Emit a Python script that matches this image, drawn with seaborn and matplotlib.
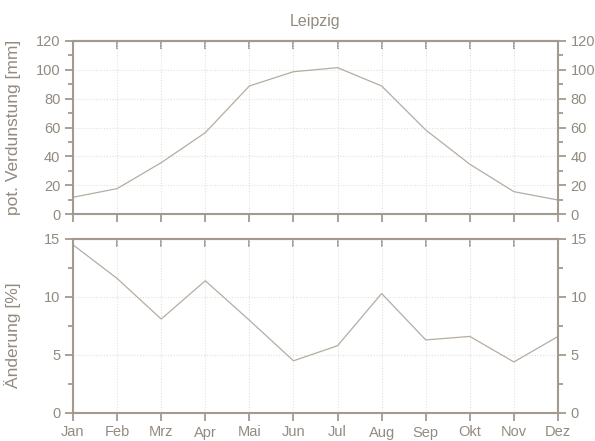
import matplotlib
matplotlib.use("Agg")
import matplotlib.pyplot as plt
from matplotlib.ticker import MultipleLocator
import seaborn as sns
import pandas as pd

months = ["Jan", "Feb", "Mrz", "Apr", "Mai", "Jun", "Jul", "Aug", "Sep", "Okt", "Nov", "Dez"]
verdunstung = [11.6, 17.6, 35.6, 56.4, 88.8, 98.7, 101.5, 88.8, 58.3, 34.5, 15.5, 9.7]
aenderung = [14.5, 11.6, 8.1, 11.4, 8.0, 4.5, 5.8, 10.3, 6.3, 6.6, 4.4, 6.6]

df = pd.DataFrame({"Monat": months, "Verdunstung": verdunstung, "Aenderung": aenderung})

sns.set_theme(style="ticks")
plt.rcParams["font.family"] = ["Liberation Sans", "DejaVu Sans"]

SPINE = "#a39a8f"
TEXT = "#938a80"
LINE = "#b5aca2"
GRID = "#e4e0dc"

fig = plt.figure(figsize=(5.95, 4.41), dpi=100)
ax1 = fig.add_axes([73 / 595, 1 - 214 / 441, 485 / 595, 173 / 441])
ax2 = fig.add_axes([73 / 595, 1 - 413 / 441, 485 / 595, 174 / 441])

sns.lineplot(data=df, x="Monat", y="Verdunstung", ax=ax1, color=LINE, lw=0.9, sort=False)
sns.lineplot(data=df, x="Monat", y="Aenderung", ax=ax2, color=LINE, lw=0.9, sort=False)


def style(ax, ymax, major, minor, ylabel, labely, show_x):
    ax.set_xlim(0, 11)
    ax.set_ylim(0, ymax)
    ax.set_xticks(range(len(months)))
    ax.set_xticklabels(months if show_x else [])
    ax.yaxis.set_major_locator(MultipleLocator(major))
    ax.yaxis.set_minor_locator(MultipleLocator(minor))
    ax.grid(True, which="major", color=GRID, linestyle=(0, (1, 1.5)), lw=0.8)
    for s in ax.spines.values():
        s.set_visible(True)
        s.set_color(SPINE)
        s.set_linewidth(1.5)
    ax.tick_params(axis="both", which="both", colors=SPINE, labelcolor=TEXT,
                   labelsize=10.5, direction="out", width=1.3)
    ax.tick_params(axis="both", which="major", length=6, pad=3)
    ax.tick_params(axis="y", which="minor", length=3.5)
    ax.tick_params(axis="y", which="both", left=True, right=True, labelleft=True, labelright=True)
    ax.tick_params(axis="x", which="both", top=False, bottom=True)
    # inward ticks along the top edge
    top = ax.secondary_xaxis("top")
    top.set_xticks(range(len(months)))
    top.tick_params(direction="in", length=6, width=1.3, colors=SPINE, labeltop=False)
    top.spines["top"].set_color(SPINE)
    top.spines["top"].set_linewidth(1.5)
    ax.set_xlabel("")
    ax.set_ylabel(ylabel, color=TEXT, fontsize=12.5)
    ax.yaxis.set_label_coords(-0.108, labely)


style(ax1, 120, 20, 10, "pot. Verdunstung [mm]", 0.5, False)
style(ax2, 15, 5, 2.5, "Änderung [%]", 0.45, True)

ax1.set_title("Leipzig", color=TEXT, fontsize=11.5, pad=11)

fig.savefig("out.png", dpi=100, facecolor="white")
